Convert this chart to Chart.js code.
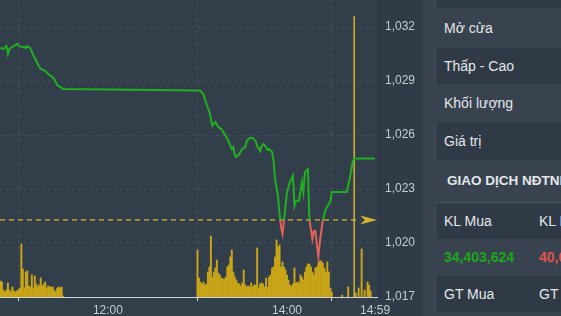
<!DOCTYPE html>
<html>
<head>
<meta charset="utf-8">
<script src="https://cdn.jsdelivr.net/npm/chart.js@4.4.1/dist/chart.umd.min.js"></script>
<style>
  html, body { margin: 0; padding: 0; background: #333e4b; overflow: hidden; }
  #wrap { position: relative; width: 561px; height: 316px; font-family: Arial, "Liberation Sans", sans-serif; }
  #chartBox { position: absolute; left: 0; top: 0; width: 423px; height: 316px; }
  #panel { position: absolute; left: 423px; top: 0; width: 138px; height: 316px; background: #38434f; overflow: hidden; color: #e4e7ea; font-size: 14px; }
  .row { position: absolute; left: 14px; width: 300px; white-space: nowrap; }
  .dark { background: #2f3a46; }
  .row span { position: absolute; left: 7px; }
  .row span.c2 { left: 102px; }
  .head { font-weight: bold; font-size: 13.5px; }
  .num { font-weight: bold; }
  .up { color: #1ea51e; }
  .down { color: #e0534d; }
  .sep { position: absolute; left: 14px; width: 300px; height: 1px; background: #4a5562; }
</style>
</head>
<body>
<div id="wrap">
  <div id="chartBox"><canvas id="c" width="423" height="316"></canvas></div>
  <div id="panel">
    <div class="row dark" style="top:0;height:8px"></div>
    <div class="row" style="top:8px;height:40px;line-height:40px"><span>Mở cửa</span></div>
    <div class="row dark" style="top:48px;height:36px;line-height:36px"><span>Thấp - Cao</span></div>
    <div class="row" style="top:84px;height:38px;line-height:38px"><span>Khối lượng</span></div>
    <div class="row dark" style="top:122px;height:38px;line-height:38px"><span>Giá trị</span></div>
    <div class="row head" style="top:160px;height:42px;line-height:42px"><span style="left:10px">GIAO DỊCH NĐTNN</span></div>
    <div class="sep" style="top:202px"></div>
    <div class="row dark" style="top:203px;height:36px;line-height:36px"><span>KL Mua</span><span class="c2">KL Bán</span></div>
    <div class="row num" style="top:239px;height:37px;line-height:37px"><span class="up">34,403,624</span><span class="c2 down">40,0</span></div>
    <div class="row dark" style="top:276px;height:36px;line-height:36px"><span>GT Mua</span><span class="c2">GT Bán</span></div>
  </div>
</div>
<script>
// price line (index points)
const priceTimes = [
  '10:48','10:50','10:52','10:53','10:54','10:56','10:59','11:01','11:04','11:05','11:06','11:08',
  '11:10','11:12','11:13','11:15','11:18','11:20','11:22','11:24','11:26','11:28','11:30',
  '13:00','13:02','13:04','13:06','13:08','13:10','13:12','13:14','13:16','13:19','13:21','13:23',
  '13:24','13:25','13:26','13:28','13:30','13:32','13:33','13:35','13:37','13:39','13:40','13:42',
  '13:43','13:44','13:46','13:47','13:48','13:50','13:51','13:52','13:54','13:55','13:56','13:57',
  '13:58','14:00','14:02','14:04','14:05','14:06','14:08','14:10','14:11','14:12','14:14','14:15',
  '14:16','14:17','14:18','14:19','14:21','14:22','14:24','14:26','14:29','14:30','14:40','14:42',
  '14:44','14:45','14:59'
];
const priceValues = [
  1030.83,1030.78,1030.94,1030.50,1030.78,1030.89,1031.06,1030.92,1030.89,1030.83,1030.94,1030.83,
  1030.44,1030.11,1029.94,1029.67,1029.56,1029.39,1029.28,1029.11,1028.78,1028.67,1028.56,
  1028.47,1028.46,1028.28,1027.72,1027.28,1026.52,1026.72,1026.44,1026.33,1025.94,1025.61,1025.22,
  1025.33,1024.89,1024.78,1024.94,1025.22,1025.33,1025.67,1025.83,1025.83,1025.67,1025.39,1025.11,
  1025.39,1025.50,1025.33,1025.17,1025.22,1025.06,1024.56,1023.56,1022.56,1021.61,1020.89,1020.50,
  1021.28,1022.83,1023.39,1023.74,1022.07,1022.35,1022.35,1023.39,1022.83,1023.94,1024.11,1021.28,
  1020.78,1020.22,1020.67,1020.67,1019.22,1020.06,1021.28,1021.89,1022.28,1022.83,1022.83,1023.56,
  1024.50,1024.69,1024.69
];

// volume bars, one per minute
const morningVolStart = '10:48';
const morningVol = [
  16,15,7,5,7,14,7,5,10,6,5,6,7,9,53,28,9,25,26,11,10,22,9,21,13,10,12,19,11,13,15,9,11,10,10,10,7,5,9,10,9,10,1
];
const afternoonVolStart = '13:00';
const afternoonVol = [
  47,19,15,13,15,12,13,25,30,61,20,25,29,37,24,22,19,18,18,20,30,32,40,47,25,20,17,14,13,11,
  14,27,12,10,11,10,14,10,12,12,49,9,13,14,13,10,19,10,20,22,29,30,40,57,50,52,30,35,30,27,
  22,17,12,11,13,29,14,15,14,22,20,17,25,30,33,33,30,25,22,29,30,34,36,36,34,29,25,35,25,9,5
];
const lateVolTimes = ['14:37','14:41','14:46','14:48','14:50','14:52','14:54','14:55','14:56'];
const lateVol = [2,10,4,9,48,7,15,12,6];

const refPrice = 1021.28;
const atcTime = '14:45';
const atcTop = 1032.6;
const refLineEnd = '14:49';
const yTicks = [1017, 1020, 1023, 1026, 1029, 1032];
const xTickLabels = ['12:00', '14:00', '14:59'];
const xMin = 647.7, xMax = 900.3;
const yMin = 1017, yMax = 1033.5;
const volMax = 297;

const up = '#1fb01f', down = '#e3615b', gold = '#d6b52b', barGold = '#c9a617';

const toMin = s => { const [h, m] = s.split(':').map(Number); return h * 60 + m; };
const fmt = v => { const h = Math.floor(v / 60), m = Math.round(v - h * 60); return h + ':' + String(m).padStart(2, '0'); };

const pricePts = priceTimes.map((t, i) => ({x: toMin(t), y: priceValues[i]}));
const volPts = [
  ...morningVol.map((v, i) => ({x: toMin(morningVolStart) + i, y: v})),
  ...afternoonVol.map((v, i) => ({x: toMin(afternoonVolStart) + i, y: v})),
  ...lateVol.map((v, i) => ({x: toMin(lateVolTimes[i]), y: v}))
];

const deco = {
  id: 'deco',
  beforeDraw(chart) {
    const {ctx, chartArea, width, height} = chart;
    ctx.save();
    ctx.fillStyle = '#333e4b';
    ctx.fillRect(0, 0, width, height);
    ctx.fillStyle = '#303b47';
    ctx.fillRect(chartArea.right, 0, width - chartArea.right, height);
    ctx.restore();
  },
  afterDatasetsDraw(chart) {
    const {ctx, scales} = chart;
    const py = scales.y.getPixelForValue(refPrice);
    const tip = scales.x.right;
    ctx.save();
    ctx.fillStyle = gold;
    ctx.beginPath();
    ctx.moveTo(tip, py);
    ctx.lineTo(tip - 17, py - 4.5);
    ctx.lineTo(tip - 12, py);
    ctx.lineTo(tip - 17, py + 4.5);
    ctx.closePath();
    ctx.fill();
    ctx.restore();
  }
};

new Chart(document.getElementById('c'), {
  type: 'line',
  data: {
    datasets: [
      {
        data: pricePts,
        borderWidth: 2,
        pointRadius: 0,
        tension: 0,
        order: 0,
        borderColor: c => {
          const ch = c.chart, a = ch.chartArea;
          if (!a) return up;
          const py = ch.scales.y.getPixelForValue(refPrice);
          const f = Math.min(Math.max((py - a.top) / (a.bottom - a.top), 0), 1);
          const g = ch.ctx.createLinearGradient(0, a.top, 0, a.bottom);
          g.addColorStop(0, up); g.addColorStop(f, up);
          g.addColorStop(f, down); g.addColorStop(1, down);
          return g;
        }
      },
      {
        data: [{x: xMin, y: refPrice}, {x: toMin(refLineEnd), y: refPrice}],
        borderColor: gold, borderWidth: 1.2, borderDash: [5, 4], pointRadius: 0, order: 1
      },
      {
        data: [{x: toMin(atcTime), y: yMin}, {x: toMin(atcTime), y: atcTop}],
        borderColor: gold, borderWidth: 1.5, pointRadius: 0, order: 1
      },
      {
        type: 'bar',
        data: volPts,
        yAxisID: 'yv',
        backgroundColor: barGold,
        barThickness: 1.3,
        order: 3
      }
    ]
  },
  options: {
    responsive: false,
    animation: false,
    layout: {padding: 0},
    plugins: {legend: {display: false}, tooltip: {enabled: false}},
    scales: {
      x: {
        type: 'linear', min: xMin, max: xMax, offset: false,
        afterBuildTicks: s => { s.ticks = xTickLabels.map(l => ({value: toMin(l)})); },
        afterFit: s => { s.height = 19; s.paddingLeft = 0; s.paddingRight = 0; },
        ticks: {
          callback: v => fmt(v), autoSkip: false, maxRotation: 0, padding: 2,
          color: '#c6cbd1', font: {family: 'Arial, "Liberation Sans", sans-serif', size: 12}
        },
        grid: {color: 'rgba(255,255,255,0.09)', tickColor: '#cfd3d8', tickLength: 4},
        border: {display: true, color: '#cfd3d8', width: 1, dash: [3, 3]}
      },
      y: {
        position: 'right', min: yMin, max: yMax,
        afterBuildTicks: s => { s.ticks = yTicks.map(v => ({value: v})); },
        afterFit: s => { s.width = 46; s.paddingTop = 0; s.paddingBottom = 0; },
        ticks: {
          callback: v => v.toLocaleString('en-US'), padding: 8,
          color: '#c6cbd1', font: {family: 'Arial, "Liberation Sans", sans-serif', size: 12}
        },
        grid: {color: 'rgba(255,255,255,0.09)', drawTicks: false},
        border: {display: false, dash: [3, 3]}
      },
      yv: {display: false, min: 0, max: volMax}
    }
  },
  plugins: [deco]
});
</script>
</body>
</html>
